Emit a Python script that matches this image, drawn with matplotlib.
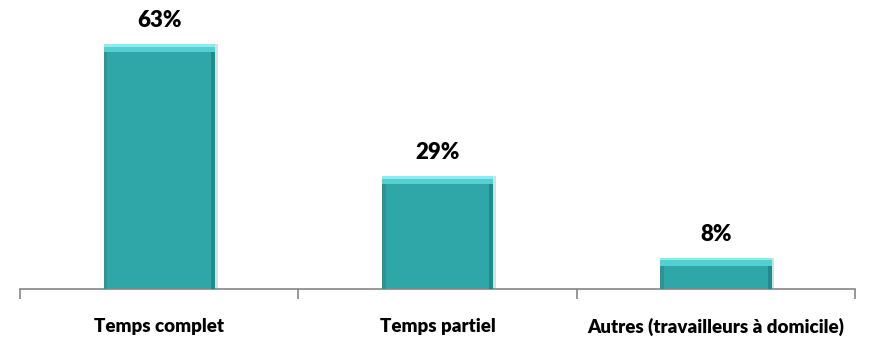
import numpy as np
import matplotlib.pyplot as plt

categories = ['Temps complet', 'Temps partiel', 'Autres (travailleurs à domicile)']
values = [63, 29, 8]
labels = ['63%', '29%', '8%']

plt.rcParams['font.family'] = ['Lato', 'DejaVu Sans']

fig = plt.figure(figsize=(8.69, 3.37), dpi=100)
ax = fig.add_axes([20 / 869, 48 / 337, 835 / 869, 272 / 337])

x = np.arange(len(categories))
w = 0.40
# shadow, main bar, darker sides and light bevel on top
ax.bar(x + 0.01, values, w, color='#7a9a9b', alpha=0.3, zorder=1)
ax.bar(x, values, w, color='#2fa6a8', zorder=2)
ax.bar(x - w / 2 + 0.007, values, 0.014, color='#2a9597', zorder=3)
ax.bar(x + w / 2 - 0.007, values, 0.014, color='#23898b', zorder=3)
bevel = 2.0
ax.bar(x, [bevel] * len(values), w, bottom=[v - bevel for v in values],
       color='#55cfd1', zorder=4)
ax.bar(x, [0.6] * len(values), w, bottom=[v - 0.6 for v in values],
       color='#86eef0', zorder=5)

for xi, v, lab in zip(x, values, labels):
    ax.text(xi, v + 3.4, lab, ha='center', va='bottom', fontsize=16,
            fontweight='heavy', color='black')

ax.set_xlim(-0.5, len(categories) - 0.5)
ax.set_ylim(0, 70)
ax.set_xticks(x)
ax.set_xticklabels(categories, fontsize=13.5, fontweight='heavy')
ax.tick_params(axis='x', which='major', length=0, pad=21)
ax.set_xticks(np.arange(len(categories) + 1) - 0.5, minor=True)
ax.tick_params(axis='x', which='minor', length=7, color='#868686', width=1.2,
               direction='out')
ax.set_yticks([])
for s in ['top', 'right', 'left']:
    ax.spines[s].set_visible(False)
ax.spines['bottom'].set_color('#868686')
ax.spines['bottom'].set_linewidth(1.2)

fig.savefig('out.png', dpi=100)
